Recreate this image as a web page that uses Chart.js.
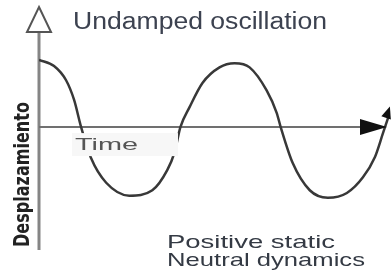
<!DOCTYPE html>
<html>
<head>
<meta charset="utf-8">
<script src="https://cdn.jsdelivr.net/npm/chart.js@4"></script>
<style>
  html, body { margin: 0; padding: 0; background: #fff; }
  #wrap { width: 391px; height: 275px; }
</style>
</head>
<body>
<div id="wrap"><canvas id="oscChart" width="391" height="275"></canvas></div>
<script>
// time (arbitrary units) and displacement
var times = [0, 0.30, 0.54, 0.70, 0.84, 1.04, 1.34, 1.80, 2.26, 2.56, 2.70, 2.82,
             3.00, 3.26, 3.60, 3.90, 4.20, 4.54, 4.74, 4.82, 5.06, 5.40, 5.76,
             6.14, 6.46, 6.70, 6.86, 7.00];
var displacement = [0.99, 0.90, 0.69, 0.40, 0, -0.46, -0.82, -1.01, -0.93, -0.63, -0.38, 0,
                    0.29, 0.65, 0.88, 0.94, 0.88, 0.54, 0.21, 0, -0.53, -0.93, -1.04,
                    -0.97, -0.74, -0.44, -0.09, 0.22];

var titleText = 'Undamped oscillation';
var axisLabelY = 'Desplazamiento';
var axisLabelX = 'Time';
var noteLines = ['Positive static', 'Neutral dynamics'];

var points = times.map(function (t, i) { return { x: t, y: displacement[i] }; });

// draw text squeezed/stretched to a given width
function fitText(ctx, text, x, y, font, color, width) {
    ctx.save();
    ctx.font = font;
    ctx.fillStyle = color;
    ctx.textBaseline = 'alphabetic';
    var w = ctx.measureText(text).width;
    ctx.translate(x, y);
    ctx.scale(width / w, 1);
    ctx.fillText(text, 0, 0);
    ctx.restore();
}

var sketch = {
    id: 'sketch',
    beforeDatasetsDraw: function (chart) {
        var ctx = chart.ctx;
        var xs = chart.scales.x, ys = chart.scales.y;
        var x0 = xs.getPixelForValue(0), y0 = ys.getPixelForValue(0);
        ctx.save();
        // vertical axis
        ctx.strokeStyle = '#858585';
        ctx.lineWidth = 3;
        ctx.beginPath();
        ctx.moveTo(x0, 31);
        ctx.lineTo(x0, chart.chartArea.bottom);
        ctx.stroke();
        // horizontal axis
        ctx.strokeStyle = '#707070';
        ctx.lineWidth = 2;
        ctx.beginPath();
        ctx.moveTo(x0, y0);
        ctx.lineTo(362, y0);
        ctx.stroke();
        ctx.restore();
    },
    afterDatasetsDraw: function (chart) {
        var ctx = chart.ctx;
        var xs = chart.scales.x, ys = chart.scales.y;
        var x0 = xs.getPixelForValue(0), y0 = ys.getPixelForValue(0);
        ctx.save();

        // open arrow on the vertical axis
        ctx.fillStyle = '#fff';
        ctx.strokeStyle = '#555';
        ctx.lineWidth = 2;
        ctx.beginPath();
        ctx.moveTo(x0, 7);
        ctx.lineTo(x0 + 12, 32);
        ctx.lineTo(x0 - 12, 32);
        ctx.closePath();
        ctx.fill();
        ctx.stroke();

        // filled arrow on the time axis
        ctx.fillStyle = '#111';
        ctx.beginPath();
        ctx.moveTo(360, y0 - 8);
        ctx.lineTo(387, y0);
        ctx.lineTo(360, y0 + 8);
        ctx.closePath();
        ctx.fill();

        // arrow tip at the end of the curve
        var n = times.length;
        var px = xs.getPixelForValue(times[n - 1]), py = ys.getPixelForValue(displacement[n - 1]);
        var qx = xs.getPixelForValue(times[n - 2]), qy = ys.getPixelForValue(displacement[n - 2]);
        var a = Math.atan2(py - qy, px - qx);
        ctx.translate(px - 2, py);
        ctx.rotate(a);
        ctx.beginPath();
        ctx.moveTo(6, 0);
        ctx.lineTo(-6, -5);
        ctx.lineTo(-6, 5);
        ctx.closePath();
        ctx.fill();
        ctx.restore();

        // label box over the curve
        ctx.save();
        ctx.fillStyle = '#f7f7f7';
        ctx.fillRect(72, y0 + 6, 106, 23);
        ctx.restore();
        fitText(ctx, axisLabelX, 75, 150, '17px "Liberation Sans", Arial, sans-serif', '#555', 63);

        // texts
        fitText(ctx, titleText, 73, 29, '23px "Liberation Sans", Arial, sans-serif', '#3c4250', 254);
        fitText(ctx, noteLines[0], 167, 248, '19px "Liberation Sans", Arial, sans-serif', '#343a44', 168);
        fitText(ctx, noteLines[1], 167, 266, '19px "Liberation Sans", Arial, sans-serif', '#343a44', 198);

        ctx.save();
        ctx.translate(29, 247);
        ctx.rotate(-Math.PI / 2);
        fitText(ctx, axisLabelY, 0, 0, 'bold 22px "Liberation Sans Narrow", "DejaVu Sans Condensed", sans-serif', '#222', 145);
        ctx.restore();
    }
};

var ctx = document.getElementById('oscChart').getContext('2d');
var myChart = new Chart(ctx, {
    type: 'line',
    data: {
        datasets: [{
            label: 'Displacement',
            data: points,
            borderColor: '#383838',
            borderWidth: 2.5,
            pointRadius: 0,
            cubicInterpolationMode: 'monotone',
            fill: false
        }]
    },
    options: {
        responsive: false,
        animation: false,
        layout: { padding: { left: 39, right: 1, top: 30, bottom: 25 } },
        plugins: { legend: { display: false }, tooltip: { enabled: false } },
        scales: {
            x: { type: 'linear', min: 0, max: 7, display: false },
            y: { min: -1.81, max: 1.43, display: false }
        }
    },
    plugins: [sketch]
});
</script>
</body>
</html>
